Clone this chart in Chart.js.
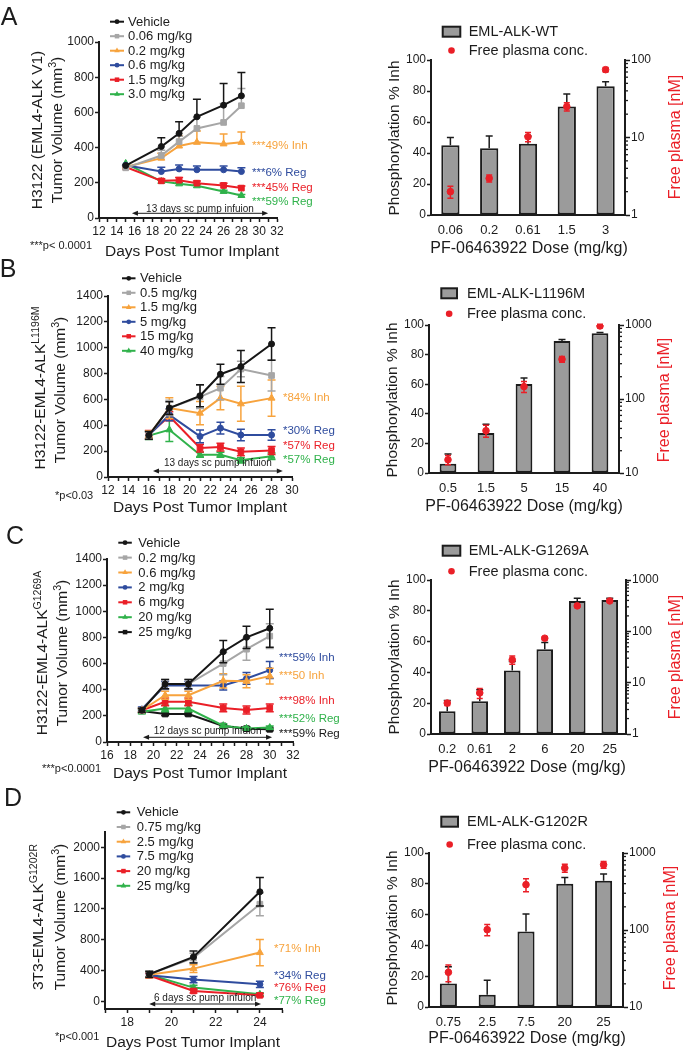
<!DOCTYPE html>
<html>
<head>
<meta charset="utf-8">
<title>PF-06463922 tumor volume and ALK phosphorylation</title>
<script src="https://cdn.jsdelivr.net/npm/chart.js@4.4.1/dist/chart.umd.min.js"></script>
<style>
  html, body { margin: 0; padding: 0; background: #fff; }
  body { position: relative; width: 684px; height: 1050px; overflow: hidden;
         font-family: "Liberation Sans", Arial, Helvetica, sans-serif; color: #1c1c1c; }
  canvas { position: absolute; }
  .t { position: absolute; white-space: nowrap; line-height: 1; }
  .t sup { font-size: 0.68em; vertical-align: 0.55em; line-height: 0; }
</style>
</head>
<body>
<script>
// ---- panel A: H3122 EML4-ALK V1 ----
var daysA = [15, 19, 21, 23, 26, 28];
var dayLabelsA = [12, 14, 16, 18, 20, 22, 24, 26, 28, 30, 32];
var volTicksA = [0, 200, 400, 600, 800, 1000];
var groupsA = ['Vehicle', '0.06 mg/kg', '0.2 mg/kg', '0.6 mg/kg', '1.5 mg/kg', '3.0 mg/kg'];
var vehA = [298, 406, 481, 575, 641, 694],  vehAErr = [0, 50, 66, 100, 123, 132];
var d006A = [285, 355, 434, 509, 543, 638], d006AErr = [0, 30, 30, 63, 108, 98];
var d02A = [290, 340, 409, 430, 421, 430],  d02AErr = [0, 28, 57, 64, 56, 59];
var d06A = [300, 264, 279, 274, 274, 264],  d06AErr = [0, 25, 22, 22, 22, 22];
var d15A = [290, 211, 215, 198, 185, 170],  d15AErr = [0, 12, 15, 12, 12, 12];
var d30A = [310, 208, 194, 183, 151, 128],  d30AErr = [0, 8, 8, 8, 6, 6];

var dosesA = ['0.06', '0.2', '0.61', '1.5', '3'];
var inhA = [45, 43, 46, 70, 83],          inhAErr = [5, 8, 5, 8, 3];
var plasmaA = [2.0, 2.97, 10.2, 25, 75],  plasmaAErr = [0.35, 0.3, 1.4, 3, 5];
var plasmaTicksA = [1, 10, 100];

// ---- panel B: H3122 EML4-ALK L1196M ----
var daysB = [16, 18, 21, 23, 25, 28];
var dayLabelsB = [12, 14, 16, 18, 20, 22, 24, 26, 28, 30];
var volTicksB = [0, 200, 400, 600, 800, 1000, 1200, 1400];
var groupsB = ['Vehicle', '0.5 mg/kg', '1.5 mg/kg', '5 mg/kg', '15 mg/kg', '40 mg/kg'];
var vehB = [322, 533, 628, 795, 854, 1029],  vehBErr = [30, 50, 85, 77, 124, 126];
var d05B = [320, 533, 620, 687, 835, 785],   d05BErr = [30, 60, 90, 90, 60, 120];
var d15B = [325, 533, 494, 610, 566, 610],   d15BErr = [30, 80, 90, 90, 135, 140];
var d5B = [322, 481, 314, 378, 325, 325],    d5BErr = [30, 45, 50, 45, 45, 40];
var d15mB = [330, 470, 224, 232, 195, 205],  d15mBErr = [30, 35, 30, 30, 30, 30];
var d40B = [320, 365, 172, 172, 129, 160],   d40BErr = [30, 90, 20, 20, 20, 25];

var dosesB = ['0.5', '1.5', '5', '15', '40'];
var inhB = [6.3, 27, 60.2, 89.2, 94.4],      inhBErr = [6.5, 6, 4, 1, 0.5];
var plasmaB = [15.1, 37.3, 147, 344, 970],   plasmaBErr = [2.2, 7, 25, 30, 50];
var plasmaTicksB = [10, 100, 1000];

// ---- panel C: H3122 EML4-ALK G1269A ----
var daysC = [19, 21, 23, 26, 28, 30];
var dayLabelsC = [16, 18, 20, 22, 24, 26, 28, 30, 32];
var volTicksC = [0, 200, 400, 600, 800, 1000, 1200, 1400];
var groupsC = ['Vehicle', '0.2 mg/kg', '0.6 mg/kg', '2 mg/kg', '6 mg/kg', '20 mg/kg', '25 mg/kg'];
var vehC = [243, 443, 443, 691, 801, 870],   vehCErr = [15, 35, 35, 85, 85, 145];
var d02C = [243, 443, 443, 600, 710, 810],   d02CErr = [15, 35, 35, 85, 85, 95];
var d06C = [243, 358, 358, 468, 465, 504],   d06CErr = [15, 30, 30, 55, 50, 60];
var d2C = [252, 432, 432, 432, 486, 550],    d2CErr = [15, 30, 30, 35, 45, 65];
var d6C = [243, 307, 307, 261, 245, 261],    d6CErr = [15, 30, 30, 30, 30, 30];
var d20C = [232, 256, 256, 125, 104, 110],   d20CErr = [15, 25, 25, 15, 12, 12];
var d25C = [238, 214, 214, 123, 102, 97],    d25CErr = [15, 12, 12, 10, 10, 10];

var dosesC = ['0.2', '0.61', '2', '6', '20', '25'];
var inhC = [14.7, 21.2, 41.3, 55, 86.4, 87],  inhCErr = [7, 7.5, 5.7, 4.4, 1.8, 1.2];
var plasmaC = [4.0, 6.3, 27.9, 73.5, 313, 391], plasmaCErr = [0.4, 1.4, 5, 5, 20, 20];
var plasmaTicksC = [1, 10, 100, 1000];

// ---- panel D: 3T3 EML4-ALK G1202R ----
var daysD = [19, 21, 24];
var dayLabelsD = [18, 20, 22, 24];
var volTicksD = [0, 400, 800, 1200, 1600, 2000];
var groupsD = ['Vehicle', '0.75 mg/kg', '2.5 mg/kg', '7.5 mg/kg', '20 mg/kg', '25 mg/kg'];
var vehD = [351, 577, 1423],  vehDErr = [40, 78, 186];
var d075D = [351, 564, 1262], d075DErr = [40, 60, 150];
var d25D = [345, 425, 633],   d25DErr = [40, 50, 170];
var d75D = [340, 282, 221],   d75DErr = [30, 40, 40];
var d20D = [335, 134, 78],    d20DErr = [30, 25, 20];
var d25mD = [345, 178, 91],   d25mDErr = [30, 30, 20];

var dosesD = ['0.75', '2.5', '7.5', '20', '25'];
var inhD = [15.2, 8.0, 49.1, 80.1, 82],     inhDErr = [11, 9.3, 11.3, 4, 4.4];
var plasmaD = [28.2, 101, 388, 638, 705],   plasmaDErr = [7, 17, 75, 75, 70];
var plasmaTicksD = [10, 100, 1000];

var pctTicks = [0, 20, 40, 60, 80, 100];

// ---- look ----
var FONT = '"Liberation Sans", Arial, Helvetica, sans-serif';
var INK = '#1c1c1c';
var C_BLACK = '#161616', C_GRAY = '#a6a6a6', C_ORANGE = '#f7a33d', C_BLUE = '#2f4c9e',
    C_RED = '#ea1f27', C_GREEN = '#30b24b', C_BAR = '#9b9b9b';
var styles6 = [
  { color: C_BLACK, shape: 'circle' }, { color: C_GRAY, shape: 'rect' },
  { color: C_ORANGE, shape: 'triangle' }, { color: C_BLUE, shape: 'circle' },
  { color: C_RED, shape: 'rect' }, { color: C_GREEN, shape: 'triangle' }
];
var styles7 = styles6.concat([{ color: C_BLACK, shape: 'rect' }]);
var RAD = { circle: 3, rect: 4, triangle: 4 };

Chart.defaults.font.family = FONT;
Chart.defaults.font.size = 12;
Chart.defaults.color = INK;

function makeCanvas(b) {
  var c = document.createElement('canvas');
  c.width = b.w; c.height = b.h;
  c.style.left = b.x + 'px'; c.style.top = b.y + 'px';
  c.style.width = b.w + 'px'; c.style.height = b.h + 'px';
  document.body.appendChild(c);
  return c;
}

// sizes of the boxes around the plot so the chart area lands where we want it
function fit(b, p) {
  return { top: p.t - b.y, left: p.l - b.x, right: b.x + b.w - p.r, bottom: b.y + b.h - p.b };
}

function tick(v) { return { value: v }; }

function marker(ctx, shape, x, y, r, color) {
  ctx.fillStyle = color;
  ctx.beginPath();
  if (shape === 'circle') {
    ctx.arc(x, y, r, 0, Math.PI * 2);
  } else if (shape === 'rect') {
    var s = r * Math.SQRT1_2;
    ctx.rect(x - s, y - s, 2 * s, 2 * s);
  } else {
    ctx.moveTo(x, y - r);
    ctx.lineTo(x + 0.866 * r, y + 0.5 * r);
    ctx.lineTo(x - 0.866 * r, y + 0.5 * r);
    ctx.closePath();
  }
  ctx.fill();
}

var errorBars = {
  id: 'errorBars',
  afterDatasetDraw: function (chart, args) {
    var ds = chart.data.datasets[args.index];
    if (!ds.errors) return;
    var meta = args.meta, ys = chart.scales[meta.yAxisID], ctx = chart.ctx, cap = ds.cap || 3.5;
    ctx.save();
    ctx.strokeStyle = ds.errColor || ds.borderColor;
    ctx.lineWidth = 1.5;
    meta.data.forEach(function (el, i) {
      var e = ds.errors[i];
      if (!e) return;
      var raw = ds.data[i];
      var v = typeof raw === 'object' ? raw.y : raw;
      var x = el.x;
      var yt = ys.getPixelForValue(v + e);
      var yb = ds.errMode === 'both' ? ys.getPixelForValue(v - e) : ys.getPixelForValue(v);
      ctx.beginPath();
      ctx.moveTo(x, yb); ctx.lineTo(x, yt);
      ctx.moveTo(x - cap, yt); ctx.lineTo(x + cap, yt);
      if (ds.errMode === 'both') { ctx.moveTo(x - cap, yb); ctx.lineTo(x + cap, yb); }
      ctx.stroke();
    });
    ctx.restore();
  }
};

function axisStyle() {
  return { drawOnChartArea: false, tickLength: 4, tickWidth: 1.5, tickColor: INK };
}

function lineChart(p) {
  var cv = makeCanvas(p.box), f = fit(p.box, p.plot);
  var sets = p.series.map(function (vals, i) {
    var st = p.styles[i];
    return {
      label: p.labels[i],
      data: p.days.map(function (d, j) { return { x: d, y: vals[j] }; }),
      errors: p.errs[i], errMode: p.errMode, cap: 4,
      borderColor: st.color, backgroundColor: st.color,
      pointStyle: st.shape, pointRadius: RAD[st.shape], pointBorderWidth: 1,
      borderWidth: 2, tension: 0
    };
  });
  var xs = [];
  for (var d = p.xMin; d <= p.xMax; d++) xs.push(d);

  var legend = {
    id: 'seriesLegend',
    afterDraw: function (chart) {
      var ctx = chart.ctx, L = p.legend, x = L.x - p.box.x;
      ctx.save();
      ctx.font = '13px ' + FONT;
      ctx.textBaseline = 'middle';
      chart.data.datasets.forEach(function (ds, i) {
        var y = L.y - p.box.y + i * L.dy;
        ctx.strokeStyle = ds.borderColor; ctx.lineWidth = 2;
        ctx.beginPath(); ctx.moveTo(x, y); ctx.lineTo(x + L.len, y); ctx.stroke();
        marker(ctx, ds.pointStyle, x + L.len / 2, y, ds.pointRadius * 0.8, ds.borderColor);
        ctx.fillStyle = INK;
        ctx.fillText(ds.label, L.tx - p.box.x, y + 0.5);
      });
      ctx.restore();
    }
  };

  var pump = {
    id: 'pumpArrow',
    afterDraw: function (chart) {
      var sx = chart.scales.x, ctx = chart.ctx, a = chart.chartArea, q = p.pump;
      var x0 = sx.getPixelForValue(q.from), x1 = sx.getPixelForValue(q.to), y = a.bottom - q.dy;
      ctx.save();
      ctx.strokeStyle = INK; ctx.fillStyle = INK; ctx.lineWidth = 1;
      ctx.beginPath(); ctx.moveTo(x0 + 3, y); ctx.lineTo(x1 - 3, y); ctx.stroke();
      ctx.beginPath(); ctx.moveTo(x0, y); ctx.lineTo(x0 + 6, y - 2.5); ctx.lineTo(x0 + 6, y + 2.5); ctx.closePath(); ctx.fill();
      ctx.beginPath(); ctx.moveTo(x1, y); ctx.lineTo(x1 - 6, y - 2.5); ctx.lineTo(x1 - 6, y + 2.5); ctx.closePath(); ctx.fill();
      ctx.font = '10px ' + FONT; ctx.textAlign = 'center'; ctx.textBaseline = 'alphabetic';
      ctx.fillText(q.text, (x0 + x1) / 2, y - q.base);
      ctx.restore();
    }
  };

  new Chart(cv, {
    type: 'line',
    data: { datasets: sets },
    options: {
      responsive: false, animation: false, events: [],
      layout: { padding: { top: f.top, right: f.right, left: 0, bottom: 0 } },
      plugins: { legend: { display: false }, tooltip: { enabled: false } },
      scales: {
        x: {
          type: 'linear', min: p.xMin, max: p.xMax,
          afterFit: function (s) { s.height = f.bottom; },
          afterBuildTicks: function (s) { s.ticks = xs.map(tick); },
          ticks: { autoSkip: false, maxRotation: 0, padding: 2,
                   callback: function (v) { return p.xLabels.indexOf(v) >= 0 ? String(v) : ''; } },
          grid: axisStyle(),
          border: { color: INK, width: 2 }
        },
        y: {
          min: p.yMin, max: p.yMax,
          afterFit: function (s) { s.width = f.left; },
          afterBuildTicks: function (s) { s.ticks = p.yTicks.map(tick); },
          ticks: { padding: 1, callback: function (v) { return String(v); } },
          grid: axisStyle(),
          border: { color: INK, width: 2 }
        }
      }
    },
    plugins: [errorBars, legend, pump]
  });
}

function barChart(p) {
  var cv = makeCanvas(p.box), f = fit(p.box, p.plot);

  var legend = {
    id: 'barLegend',
    afterDraw: function (chart) {
      var ctx = chart.ctx, L = p.legend, bx = L.bx - p.box.x, tx = L.tx - p.box.x;
      var y0 = L.y0 - p.box.y, y1 = L.y1 - p.box.y;
      ctx.save();
      ctx.fillStyle = C_BAR; ctx.fillRect(bx, y0 - 5, L.bw, 10);
      ctx.strokeStyle = INK; ctx.lineWidth = 2; ctx.strokeRect(bx, y0 - 5, L.bw, 10);
      marker(ctx, 'circle', bx + L.bw / 2, y1, 3.3, C_RED);
      ctx.fillStyle = INK; ctx.font = '14.5px ' + FONT; ctx.textBaseline = 'middle';
      ctx.fillText(p.name, tx, y0 + 0.5);
      ctx.fillText('Free plasma conc.', tx, y1 + 0.5);
      ctx.restore();
    }
  };

  var minor = {
    id: 'logMinor',
    afterDraw: function (chart) {
      var s = chart.scales.y2, ctx = chart.ctx, x = chart.chartArea.right;
      ctx.save(); ctx.strokeStyle = INK; ctx.lineWidth = 1.3;
      for (var dec = p.logMin; dec < p.logMax; dec *= 10) {
        for (var k = 2; k <= 9; k++) {
          var y = s.getPixelForValue(dec * k);
          ctx.beginPath(); ctx.moveTo(x, y); ctx.lineTo(x + 3, y); ctx.stroke();
        }
      }
      ctx.restore();
    }
  };

  new Chart(cv, {
    type: 'bar',
    data: {
      labels: p.doses,
      datasets: [
        { type: 'line', label: 'Free plasma conc.', data: p.plasma, errors: p.plasmaErr, errMode: 'both',
          errColor: C_RED, cap: 3, yAxisID: 'y2', showLine: false, pointRadius: 3.3, pointStyle: 'circle',
          pointBackgroundColor: C_RED, pointBorderColor: C_RED, borderColor: C_RED, order: 0 },
        { type: 'bar', label: p.name, data: p.inh, errors: p.inhErr, errMode: 'up', errColor: INK, cap: 3.5,
          yAxisID: 'y', backgroundColor: C_BAR, borderColor: INK, borderWidth: 2, borderSkipped: false,
          barPercentage: p.barPct, categoryPercentage: 1, order: 1 }
      ]
    },
    options: {
      responsive: false, animation: false, events: [],
      layout: { padding: { top: f.top, left: 0, right: 0, bottom: 0 } },
      plugins: { legend: { display: false }, tooltip: { enabled: false } },
      scales: {
        x: {
          afterFit: function (s) { s.height = f.bottom; },
          ticks: { padding: 0, font: { size: 13 }, maxRotation: 0, autoSkip: false },
          grid: { display: false },
          border: { color: INK, width: 2 }
        },
        y: {
          position: 'left', min: 0, max: 100,
          afterFit: function (s) { s.width = f.left; },
          afterBuildTicks: function (s) { s.ticks = pctTicks.map(tick); },
          ticks: { padding: 1, callback: function (v) { return String(v); } },
          grid: axisStyle(),
          border: { color: INK, width: 2 }
        },
        y2: {
          type: 'logarithmic', position: 'right', min: p.logMin, max: p.logMax,
          afterFit: function (s) { s.width = f.right; },
          afterBuildTicks: function (s) { s.ticks = p.logTicks.map(tick); },
          ticks: { padding: 1, callback: function (v) { return String(v); } },
          grid: { drawOnChartArea: false, tickLength: 5, tickWidth: 1.5, tickColor: INK },
          border: { color: INK, width: 2 }
        }
      }
    },
    plugins: [errorBars, minor, legend]
  });
}

// ---- the eight plots ----
lineChart({
  box: { x: 0, y: 0, w: 342, h: 260 }, plot: { l: 99, t: 42, r: 277, b: 218 },
  days: daysA, labels: groupsA, styles: styles6, errMode: 'up',
  series: [vehA, d006A, d02A, d06A, d15A, d30A],
  errs: [vehAErr, d006AErr, d02AErr, d06AErr, d15AErr, d30AErr],
  xMin: 12, xMax: 32, xLabels: dayLabelsA, yMin: 0, yMax: 1000, yTicks: volTicksA,
  legend: { x: 110, len: 14, tx: 128, y: 21.7, dy: 14.5 },
  pump: { from: 15.7, to: 31, dy: 4.7, base: 1.5, text: '13 days sc pump infuion' }
});
barChart({
  box: { x: 342, y: 0, w: 342, h: 260 }, plot: { l: 431, t: 60, r: 625, b: 215 },
  name: 'EML-ALK-WT', doses: dosesA, inh: inhA, inhErr: inhAErr, plasma: plasmaA, plasmaErr: plasmaAErr,
  logMin: 1, logMax: 100, logTicks: plasmaTicksA, barPct: 0.47,
  legend: { bx: 442.7, bw: 17.6, tx: 468.7, y0: 31.7, y1: 50.5 }
});

lineChart({
  box: { x: 0, y: 260, w: 342, h: 260 }, plot: { l: 108, t: 296, r: 292, b: 477 },
  days: daysB, labels: groupsB, styles: styles6, errMode: 'both',
  series: [vehB, d05B, d15B, d5B, d15mB, d40B],
  errs: [vehBErr, d05BErr, d15BErr, d5BErr, d15mBErr, d40BErr],
  xMin: 12, xMax: 30, xLabels: dayLabelsB, yMin: 0, yMax: 1400, yTicks: volTicksB,
  legend: { x: 122, len: 13.5, tx: 140, y: 278.3, dy: 14.5 },
  pump: { from: 16.4, to: 29.1, dy: 6, base: 5, text: '13 days sc pump infuion' }
});
barChart({
  box: { x: 342, y: 260, w: 342, h: 260 }, plot: { l: 429, t: 325, r: 619, b: 473 },
  name: 'EML-ALK-L1196M', doses: dosesB, inh: inhB, inhErr: inhBErr, plasma: plasmaB, plasmaErr: plasmaBErr,
  logMin: 10, logMax: 1000, logTicks: plasmaTicksB, barPct: 0.44,
  legend: { bx: 441.3, bw: 15.7, tx: 467, y0: 293.3, y1: 313.8 }
});

lineChart({
  box: { x: 0, y: 520, w: 342, h: 265 }, plot: { l: 107, t: 559, r: 293, b: 742 },
  days: daysC, labels: groupsC, styles: styles7, errMode: 'both',
  series: [vehC, d02C, d06C, d2C, d6C, d20C, d25C],
  errs: [vehCErr, d02CErr, d06CErr, d2CErr, d6CErr, d20CErr, d25CErr],
  xMin: 16, xMax: 32, xLabels: dayLabelsC, yMin: 0, yMax: 1400, yTicks: volTicksC,
  legend: { x: 118.3, len: 13.5, tx: 138.3, y: 542.7, dy: 14.9 },
  pump: { from: 19.1, to: 30.2, dy: 4.7, base: 3, text: '12 days sc pump infuion' }
});
barChart({
  box: { x: 342, y: 520, w: 342, h: 265 }, plot: { l: 431, t: 580, r: 626, b: 734 },
  name: 'EML-ALK-G1269A', doses: dosesC, inh: inhC, inhErr: inhCErr, plasma: plasmaC, plasmaErr: plasmaCErr,
  logMin: 1, logMax: 1000, logTicks: plasmaTicksC, barPct: 0.51,
  legend: { bx: 442.7, bw: 17.6, tx: 468.7, y0: 550.7, y1: 571.3 }
});

lineChart({
  box: { x: 0, y: 785, w: 342, h: 265 }, plot: { l: 105, t: 832, r: 282, b: 1009 },
  days: daysD, labels: groupsD, styles: styles6, errMode: 'both',
  series: [vehD, d075D, d25D, d75D, d20D, d25mD],
  errs: [vehDErr, d075DErr, d25DErr, d75DErr, d20DErr, d25mDErr],
  xMin: 17, xMax: 25, xLabels: dayLabelsD, yMin: -100, yMax: 2200, yTicks: volTicksD,
  legend: { x: 116.7, len: 13.5, tx: 136.7, y: 812.3, dy: 14.7 },
  pump: { from: 19, to: 24.05, dy: 5, base: 3, text: '6 days sc pump infuion' }
});
barChart({
  box: { x: 342, y: 785, w: 342, h: 265 }, plot: { l: 429, t: 853, r: 623, b: 1007 },
  name: 'EML-ALK-G1202R', doses: dosesD, inh: inhD, inhErr: inhDErr, plasma: plasmaD, plasmaErr: plasmaDErr,
  logMin: 10, logMax: 1000, logTicks: plasmaTicksD, barPct: 0.44,
  legend: { bx: 441.3, bw: 16.7, tx: 467, y0: 821.7, y1: 844.5 }
});

// ---- titles, notes, annotations ----
function T(x, y, html, size, color, mode) {
  var d = document.createElement('div');
  d.className = 't';
  d.innerHTML = html;
  d.style.left = x + 'px'; d.style.top = y + 'px';
  d.style.fontSize = size + 'px';
  if (color) d.style.color = color;
  d.style.transform = mode === 'r' ? 'translate(-50%,-50%) rotate(-90deg)'
                    : mode === 'l' ? 'translate(0,-50%)' : 'translate(-50%,-50%)';
  document.body.appendChild(d);
}

var VOL = 'Tumor Volume (mm<sup>3</sup>)', DAYS = 'Days Post Tumor Implant',
    PHOS = 'Phosphorylation % Inh', FREE = 'Free plasma [nM]', DOSE = 'PF-06463922 Dose (mg/kg)';

T(9, 16, 'A', 25); T(8, 268, 'B', 25); T(15, 535, 'C', 25); T(13, 797, 'D', 25);

// A
T(37, 130, 'H3122 (EML4-ALK V1)', 15.5, null, 'r');
T(57, 130, VOL, 15.5, null, 'r');
T(192, 251, DAYS, 15.5);
T(30, 245, '***p&lt; 0.0001', 11, null, 'l');
T(252, 146, '***49% Inh', 11.5, C_ORANGE, 'l');
T(252, 173, '***6% Reg', 11.5, C_BLUE, 'l');
T(252, 188, '***45% Reg', 11.5, C_RED, 'l');
T(252, 202, '***59% Reg', 11.5, C_GREEN, 'l');
T(394, 138, PHOS, 15.5, null, 'r');
T(675, 137, FREE, 16, C_RED, 'r');
T(529, 248, DOSE, 16);

// B
T(40, 388, 'H3122-EML4-ALK<sup>L1196M</sup>', 15.5, null, 'r');
T(60, 390, VOL, 15.5, null, 'r');
T(200, 507, DAYS, 15.5);
T(55, 495, '*p&lt;0.03', 11, null, 'l');
T(283, 398, '*84% Inh', 11.5, C_ORANGE, 'l');
T(283, 431, '*30% Reg', 11.5, C_BLUE, 'l');
T(283, 446, '*57% Reg', 11.5, C_RED, 'l');
T(283, 460, '*57% Reg', 11.5, C_GREEN, 'l');
T(392, 400, PHOS, 15.5, null, 'r');
T(664, 400, FREE, 16, C_RED, 'r');
T(524, 506, DOSE, 16);

// C
T(42, 653, 'H3122-EML4-ALK<sup>G1269A</sup>', 15.5, null, 'r');
T(62, 653, VOL, 15.5, null, 'r');
T(200, 773, DAYS, 15.5);
T(42, 768, '***p&lt;0.0001', 11, null, 'l');
T(279, 658, '***59% Inh', 11.5, C_BLUE, 'l');
T(279, 676, '***50 Inh', 11.5, C_ORANGE, 'l');
T(279, 701, '***98% Inh', 11.5, C_RED, 'l');
T(279, 719, '***52% Reg', 11.5, C_GREEN, 'l');
T(279, 734, '***59% Reg', 11.5, C_BLACK, 'l');
T(394, 657, PHOS, 15.5, null, 'r');
T(675, 657, FREE, 16, C_RED, 'r');
T(527, 767, DOSE, 16);

// D
T(38, 917, '3T3-EML4-ALK<sup>G1202R</sup>', 15.5, null, 'r');
T(60, 917, VOL, 15.5, null, 'r');
T(193, 1042, DAYS, 15.5);
T(55, 1036, '*p&lt;0.001', 11, null, 'l');
T(274, 949, '*71% Inh', 11.5, C_ORANGE, 'l');
T(274, 976, '*34% Reg', 11.5, C_BLUE, 'l');
T(274, 988, '*76% Reg', 11.5, C_RED, 'l');
T(274, 1001, '*77% Reg', 11.5, C_GREEN, 'l');
T(392, 928, PHOS, 15.5, null, 'r');
T(670, 928, FREE, 16, C_RED, 'r');
T(527, 1038, DOSE, 16);
</script>
</body>
</html>
